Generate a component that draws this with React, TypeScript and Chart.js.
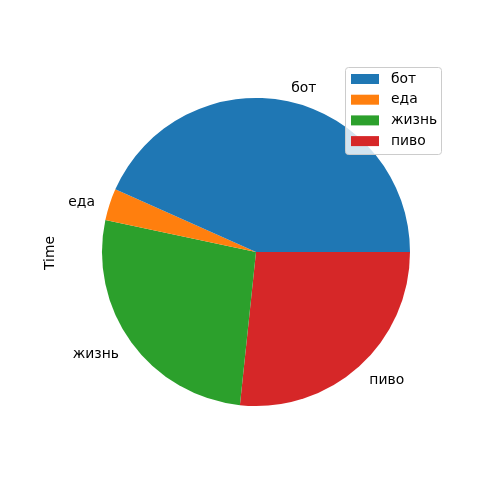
import React, { useEffect, useRef } from "react";
import { Chart, registerables } from "chart.js";

Chart.register(...registerables);

const categories = ["бот", "еда", "жизнь", "пиво"];
const values = [13, 1, 8, 8];
const colors = ["#1f77b4", "#ff7f0e", "#2ca02c", "#d62728"];
const yLabel = "Time";

const FONT = '13.9px "DejaVu Sans"';

const overlayPlugin = {
  id: "mplOverlay",
  afterDraw(chart: any) {
    const ctx = chart.ctx as CanvasRenderingContext2D;
    const meta = chart.getDatasetMeta(0);
    const n = categories.length;
    ctx.save();
    ctx.font = FONT;
    ctx.fillStyle = "#000";
    ctx.textBaseline = "middle";
    // wedge labels (data reversed for clockwise drawing)
    meta.data.forEach((arc: any, i: number) => {
      const idx = n - 1 - i;
      const p = arc.getProps(["x", "y", "startAngle", "endAngle", "outerRadius"], true);
      const mid = (p.startAngle + p.endAngle) / 2;
      const r = p.outerRadius * 1.1;
      const x = p.x + r * Math.cos(mid);
      const y = p.y + r * Math.sin(mid);
      ctx.textAlign = Math.cos(mid) > 0 ? "left" : "right";
      ctx.fillText(categories[idx], x, y + 2.5);
    });
    // y label
    ctx.save();
    ctx.translate(50, 253);
    ctx.rotate(-Math.PI / 2);
    ctx.textAlign = "center";
    ctx.fillText(yLabel, 0, 0);
    ctx.restore();
    // legend
    const bx = 345.5, by = 67.5, bw = 96, bh = 87;
    ctx.beginPath();
    ctx.roundRect(bx, by, bw, bh, 3);
    ctx.fillStyle = "rgba(255,255,255,0.8)";
    ctx.fill();
    ctx.strokeStyle = "#cccccc";
    ctx.lineWidth = 1;
    ctx.stroke();
    categories.forEach((c, i) => {
      const cy = 79 + i * 20.7;
      ctx.fillStyle = colors[i];
      ctx.fillRect(351, cy - 5, 28, 10);
      ctx.fillStyle = "#000";
      ctx.textAlign = "left";
      ctx.fillText(c, 391, cy);
    });
    ctx.restore();
  },
};

export default function App() {
  const ref = useRef<HTMLCanvasElement>(null);
  useEffect(() => {
    if (!ref.current) return;
    const chart = new Chart(ref.current, {
      type: "pie",
      data: {
        labels: [...categories].reverse(),
        datasets: [
          {
            data: [...values].reverse(),
            backgroundColor: [...colors].reverse(),
            borderWidth: 0,
          },
        ],
      },
      options: {
        responsive: false,
        animation: false,
        rotation: 90,
        layout: { padding: { left: 102, top: 98, right: 90, bottom: 94 } },
        plugins: {
          legend: { display: false },
          tooltip: { enabled: false },
        },
      },
      plugins: [overlayPlugin],
    });
    return () => chart.destroy();
  }, []);
  return (
    <div style={{ position: "fixed", left: 0, top: 0, width: 500, height: 500, background: "#fff" }}>
      <canvas ref={ref} width={500} height={500} style={{ width: 500, height: 500 }} />
    </div>
  );
}
